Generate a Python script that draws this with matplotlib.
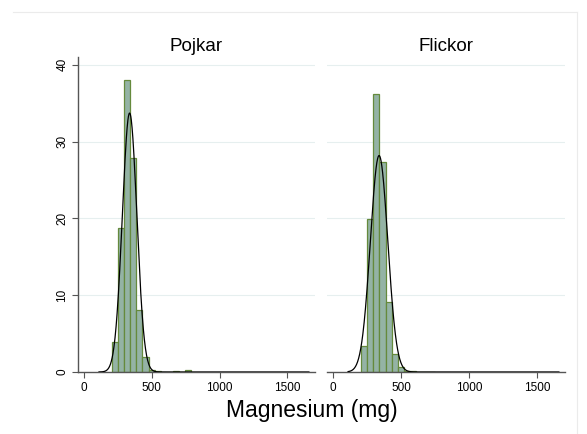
import numpy as np
import matplotlib
matplotlib.use('Agg')
import matplotlib.pyplot as plt
from matplotlib.lines import Line2D

plt.rcParams['font.family'] = ['Liberation Sans', 'DejaVu Sans']

# histogram bins (mg) and percent heights
bin_start = 205
bin_width = 45.2

titles = ['Pojkar', 'Flickor']

pct_pojkar = [3.9, 18.8, 38.0, 27.9, 8.1, 2.0, 0.3, 0.1, 0.05, 0.05, 0.1, 0.05, 0.2]
pct_flickor = [3.4, 19.9, 36.2, 27.3, 9.1, 2.3, 0.65, 0.15, 0.1, 0.05, 0.05, 0.05]

# fitted normal overlay: mean, sd (mg)
norm_pojkar = (336, 53.5)
norm_flickor = (338, 64.0)
curve_range = (110, 1660)

xticks = [0, 500, 1000, 1500]
yticks = [0, 10, 20, 30, 40]

bar_fill = '#94b3a5'
bar_edge = '#658a3c'
grid_col = '#e6efef'
axis_col = '#555555'

W, H = 587, 434
fig = plt.figure(figsize=(W / 100, H / 100), dpi=100)

# faint outer frame
fig.add_artist(Line2D([13 / W, 577 / W], [1 - 12 / H, 1 - 12 / H], color='#ebebeb', lw=0.8))
fig.add_artist(Line2D([577 / W, 577 / W], [1 - 12 / H, 0], color='#ebebeb', lw=0.8))

bottom = 1 - 372 / H
height = (372 - 57) / H
panels = [(78, 315), (327, 565)]

for i, (pct, (mu, sd), title) in enumerate(zip([pct_pojkar, pct_flickor],
                                                 [norm_pojkar, norm_flickor], titles)):
    x0, x1 = panels[i]
    ax = fig.add_axes([x0 / W, bottom, (x1 - x0) / W, height])
    edges = bin_start + bin_width * np.arange(len(pct))
    ax.bar(edges, pct, width=bin_width, align='edge', color=bar_fill,
           edgecolor=bar_edge, linewidth=0.9, zorder=2)

    xs = np.linspace(curve_range[0], curve_range[1], 800)
    ys = 100 * bin_width / (sd * np.sqrt(2 * np.pi)) * np.exp(-0.5 * ((xs - mu) / sd) ** 2)
    ax.plot(xs, ys, color='black', lw=0.9, zorder=3)

    ax.set_xlim(-45, 1705)
    ax.set_ylim(0, 41)
    for yv in yticks[1:]:
        ax.axhline(yv, color=grid_col, lw=0.8, zorder=1)

    for s in ['top', 'right']:
        ax.spines[s].set_visible(False)
    ax.spines['bottom'].set_color(axis_col)
    ax.spines['bottom'].set_linewidth(1.0)
    ax.spines['left'].set_color(axis_col)
    ax.spines['left'].set_linewidth(1.0)

    ax.set_xticks(xticks)
    ax.set_xticklabels([str(t) for t in xticks], fontsize=8.5)
    ax.tick_params(axis='x', length=4, color=axis_col, pad=3)
    if i == 0:
        ax.set_yticks(yticks)
        ax.set_yticklabels([str(t) for t in yticks], fontsize=8.5, rotation=90, va='center')
        ax.tick_params(axis='y', length=4, color=axis_col, pad=3)
    else:
        ax.spines['left'].set_visible(False)
        ax.set_yticks([])
    ax.set_title(title, fontsize=13.5, pad=4)

fig.text(312 / W, 1 - 410 / H, 'Magnesium (mg)', ha='center', va='center', fontsize=16.5)

fig.savefig('out.png', dpi=100)
